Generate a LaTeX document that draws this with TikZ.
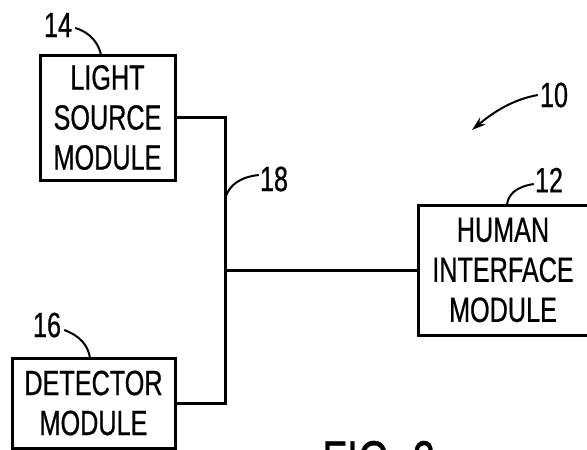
\documentclass[tikz,border=0pt]{standalone}
\usepackage{fontspec}
\setmainfont{Liberation Sans}[FakeStretch=0.72,FakeBold=0.6]
\usetikzlibrary{arrows.meta}
\begin{document}
\begin{tikzpicture}[x=1pt,y=-1pt,
  modbox/.style={draw,line width=3pt,inner sep=0pt,align=center,font=\fontsize{35}{40}\selectfont},
  conn/.style={line width=3pt},
  leader/.style={line width=2pt},
  reflabel/.style={font=\fontsize{35}{40}\selectfont,inner sep=0pt}]
\useasboundingbox (0,0) rectangle (587,450);
\fill[white] (0,0) rectangle (587,450);
\node[modbox,minimum width=135pt,minimum height=125pt] (ls) at (107.5,117.5) {LIGHT\\SOURCE\\MODULE};
\node[modbox,minimum width=163pt,minimum height=90pt] (det) at (93.5,403) {DETECTOR\\MODULE};
\node[modbox,minimum width=170pt,minimum height=130pt] (him) at (503,270) {HUMAN\\INTERFACE\\MODULE};
\coordinate (j) at (225,270);
\draw[conn] (ls.east) -| (j) |- (det.east);
\draw[conn] (j) -- (him.west);
\node[reflabel] (l14) at (58,25) {14};
\node[reflabel] (l16) at (47,325) {16};
\node[reflabel] (l18) at (274,179) {18};
\node[reflabel] (l12) at (549,180) {12};
\node[reflabel] (l10) at (554,95) {10};
\draw[leader] (l14.east) ++(3,3) .. controls (92,33) and (99,45) .. (101,55);
\draw[leader] (l16.east) ++(3,5) .. controls (80,336) and (88,345) .. (90,358);
\draw[leader] (l18.west) ++(-1,-4) .. controls (240,177) and (230,185) .. (226,196);
\draw[leader] (l12.west) ++(-1,4) .. controls (515,187) and (508,195) .. (507,205);
\draw[leader,-{Stealth[length=14pt,width=9pt]}] (l10.west) ++(-2,0) .. controls (510,100) and (490,115) .. (472,130);
\node[anchor=base west,inner sep=0pt,font=\fontsize{56}{60}\selectfont] (fig) at (322,480) {FIG.\hspace{12pt}2};
\end{tikzpicture}
\end{document}
